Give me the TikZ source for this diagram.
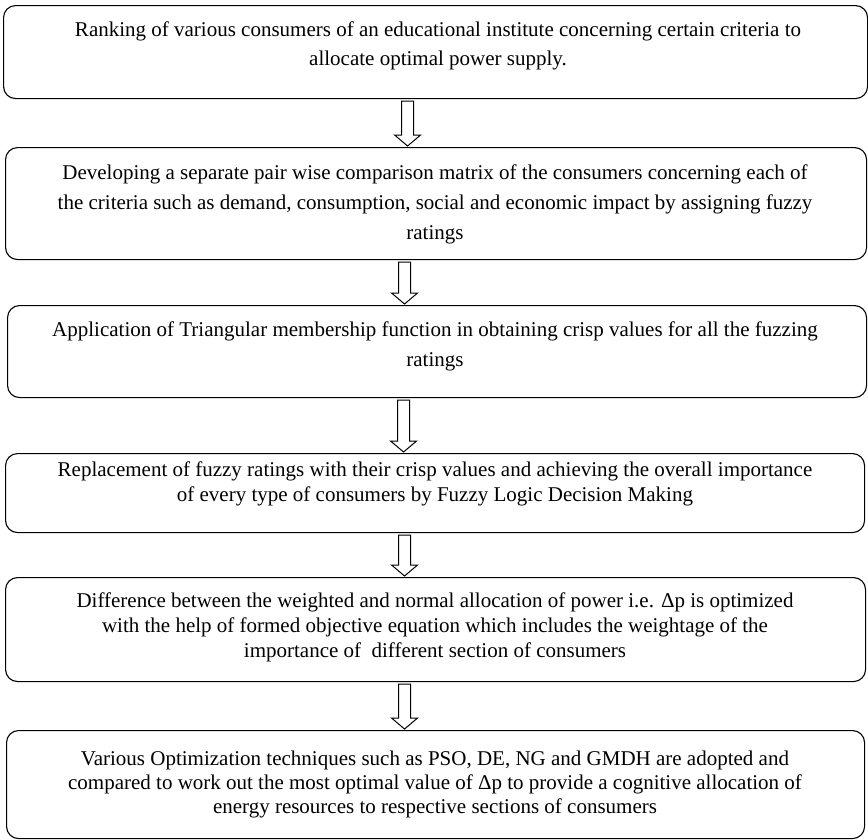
\documentclass[tikz,border=0pt]{standalone}
\usepackage{fontspec}
\setmainfont{Liberation Serif}
\usetikzlibrary{calc}

\tikzset{
  stagebox/.style={draw=black, line width=1.1pt, rounded corners=12pt, inner sep=0pt},
  stagetext/.style={anchor=north, inner sep=0pt, align=center, text=black},
  flowarrow/.style={draw=black, line width=1pt, fill=white, line join=miter},
}

% box from top-left and bottom-right corners (y grows downward)
\newcommand\stage[5]{%
  \node[stagebox, anchor=north west, minimum width=#4pt-#2pt, minimum height=#5pt-#3pt]
    (#1) at (#2,#3) {};}

% hollow block arrow from the bottom of one box to the top of the next
\newcommand\hollowarrow[3]{%
  \draw[flowarrow] let \p1=($(#1.south)+(#3,0)$), \p2=(#2.north) in
    (\x1-6pt,\y1-2pt) -- (\x1-6pt,\y2+12pt) -- (\x1-13pt,\y2+12pt) --
    (\x1,\y2+1pt) -- (\x1+13pt,\y2+12pt) -- (\x1+6pt,\y2+12pt) --
    (\x1+6pt,\y1-2pt) -- cycle;}

% text block whose first baseline sits at the given y
\newcommand\stagelines[5]{%
  \node[stagetext, font=\fontsize{21}{#4}\selectfont] (#1) at (#2,#3-0.72*#4) {\strut #5};}

\begin{document}
\begin{tikzpicture}[x=1pt, y=-1pt]
  \useasboundingbox (0,0) rectangle (868,839);

  \stage{b1}{3}{5}{867}{98}
  \stage{b2}{5}{147}{866}{259}
  \stage{b3}{7}{305}{866}{397}
  \stage{b4}{5}{453}{864}{532}
  \stage{b5}{5}{577}{865}{681}
  \stage{b6}{6}{730}{864}{838}

  \stagelines{t1}{438}{37}{29}{Ranking of various consumers of an educational institute concerning certain criteria to\\
    allocate optimal power supply.}
  \stagelines{t2}{435}{180}{30}{Developing a separate pair wise comparison matrix of the consumers concerning each of\\
    the criteria such as demand, consumption, social and economic impact by assigning fuzzy\\
    ratings}
  \stagelines{t3}{435}{337}{30}{Application of Triangular membership function in obtaining crisp values for all the fuzzing\\
    ratings}
  \stagelines{t4}{435}{477}{25}{Replacement of fuzzy ratings with their crisp values and achieving the overall importance\\
    of every type of consumers by Fuzzy Logic Decision Making}
  \stagelines{t5}{435}{608}{25}{Difference between the weighted and normal allocation of power i.e. Δp is optimized\\
    with the help of formed objective equation which includes the weightage of the\\
    importance of\ \ different section of consumers}
  \stagelines{t6}{435}{766}{24}{Various Optimization techniques such as PSO, DE, NG and GMDH are adopted and\\
    compared to work out the most optimal value of Δp to provide a cognitive allocation of\\
    energy resources to respective sections of consumers}

  \hollowarrow{b1}{b2}{-28}
  \hollowarrow{b2}{b3}{-31.5}
  \hollowarrow{b3}{b4}{-33.5}
  \hollowarrow{b4}{b5}{-30.5}
  \hollowarrow{b5}{b6}{-31}
\end{tikzpicture}
\end{document}
